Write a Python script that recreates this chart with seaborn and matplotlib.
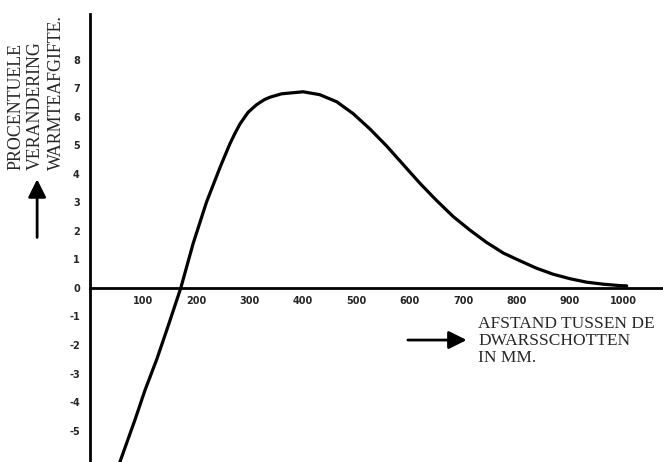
import numpy as np
import pandas as pd
import matplotlib
matplotlib.use("Agg")
import matplotlib.pyplot as plt
import seaborn as sns

# ============================================================
# Data
# ============================================================

afstand_mm = [55, 85, 104, 126, 147, 171, 194, 219, 244, 254, 263, 272, 282, 297, 307, 313, 328, 338, 360,
              400, 431, 463, 494, 525, 556, 587, 619, 649, 681, 712, 743, 775,
              806, 837, 868, 900, 931, 962, 993, 1006]
verandering = [-6.2, -4.63, -3.58, -2.5, -1.35, 0.0, 1.55, 3.0, 4.2, 4.65, 5.05, 5.4, 5.75, 6.15, 6.32, 6.42, 6.6, 6.68, 6.8,
               6.87, 6.77, 6.52, 6.1, 5.57, 4.98, 4.33, 3.66, 3.08, 2.5, 2.03, 1.6, 1.22,
               0.95, 0.69, 0.48, 0.32, 0.2, 0.13, 0.08, 0.07]

x_ticks = [100, 200, 300, 400, 500, 600, 700, 800, 900, 1000]
y_ticks = [-5, -4, -3, -2, -1, 0, 1, 2, 3, 4, 5, 6, 7, 8]

y_label = "PROCENTUELE\nVERANDERING\nWARMTEAFGIFTE."
x_label = "AFSTAND TUSSEN DE\nDWARSSCHOTTEN\nIN MM."

df = pd.DataFrame({"afstand": afstand_mm, "verandering": verandering})

# ============================================================
# Plot
# ============================================================

sns.set_theme(style="white")
plt.rcParams["font.family"] = ["DejaVu Sans"]

fig = plt.figure(figsize=(6.63, 4.62), dpi=100)
ax = fig.add_axes([0.135, 0.0, 0.865, 0.97])

sns.lineplot(data=df, x="afstand", y="verandering", color="black", linewidth=2.3, ax=ax)

ax.set_xlim(0, 1074)
ax.set_ylim(-6.1, 9.6)

ax.spines["top"].set_visible(False)
ax.spines["right"].set_visible(False)
ax.spines["bottom"].set_position(("data", 0))
ax.spines["left"].set_linewidth(2.0)
ax.spines["bottom"].set_linewidth(2.0)
ax.spines["left"].set_color("black")
ax.spines["bottom"].set_color("black")

ax.set_xticks(x_ticks)
ax.set_yticks(y_ticks)
ax.set_xticklabels([str(t) for t in x_ticks], fontsize=7, fontweight="bold")
ax.set_yticklabels([str(t) for t in y_ticks], fontsize=7, fontweight="bold")
ax.tick_params(axis="x", direction="out", length=3, width=1.5, color="black", pad=3)
ax.tick_params(axis="y", direction="inout", length=4, width=1.5, color="black", pad=5)
ax.set_xlabel("")
ax.set_ylabel("")

# axis titles and arrows
fig.text(0.0106, 0.632, y_label, rotation=90, ha="left", va="bottom",
         fontsize=12.9, family="Liberation Serif", linespacing=1.25)
fig.text(0.721, 0.316, x_label, ha="left", va="top",
         fontsize=12.5, family="Liberation Serif", linespacing=1.1)

arrow = dict(arrowstyle="-|>,head_length=0.9,head_width=0.45", color="black", lw=2)
ax.annotate("", xy=(0.056, 0.618), xytext=(0.056, 0.48),
            xycoords="figure fraction", textcoords="figure fraction", arrowprops=arrow)
ax.annotate("", xy=(0.708, 0.264), xytext=(0.611, 0.264),
            xycoords="figure fraction", textcoords="figure fraction", arrowprops=arrow)

plt.savefig("out.png", dpi=100)
